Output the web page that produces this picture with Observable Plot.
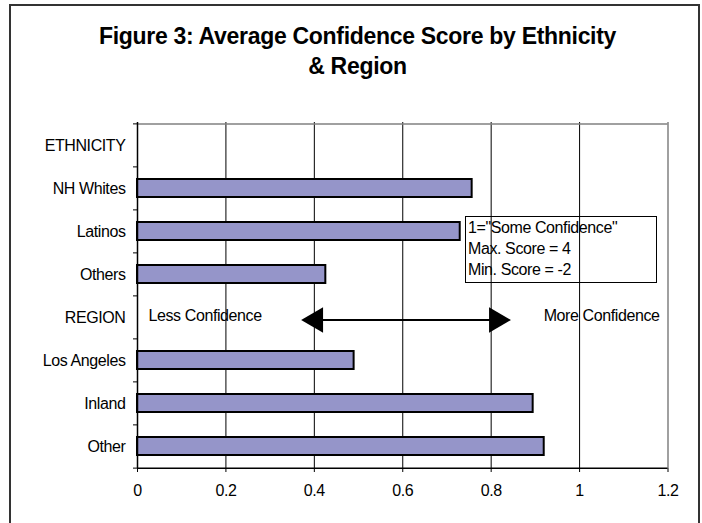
<!DOCTYPE html>
<html><head><meta charset="utf-8">
<script src="https://cdn.jsdelivr.net/npm/d3@7"></script>
<script src="https://cdn.jsdelivr.net/npm/@observablehq/plot@0.6"></script>
<style>
html,body{margin:0;padding:0;background:#fff;}
body{width:702px;height:523px;position:relative;overflow:hidden;font-family:"Liberation Sans",Arial,sans-serif;}
#frame{position:absolute;left:9px;top:4px;width:691px;height:600px;border:2px solid #333;box-sizing:border-box;}
#title{position:absolute;left:0;width:715px;top:21px;text-align:center;font-weight:bold;font-size:23px;line-height:30px;letter-spacing:-0.3px;color:#000;}
#chart{position:absolute;left:0;top:0;}
#note{position:absolute;left:465px;top:216px;width:192px;height:67px;border:1.5px solid #000;box-sizing:border-box;font-size:16px;line-height:21px;letter-spacing:-0.4px;padding-left:2px;color:#000;}
</style>
</head><body>
<div id="frame"></div>
<div id="chart"></div>
<div id="title"></div>
<div id="note"></div>
<script>
const titleLines = ["Figure 3: Average Confidence Score by Ethnicity", "& Region"];
const categories = ["ETHNICITY", "NH Whites", "Latinos", "Others", "REGION", "Los Angeles", "Inland", "Other"];
const scores = [null, 0.757, 0.73, 0.426, null, 0.49, 0.895, 0.92];
const xTicks = [0, 0.2, 0.4, 0.6, 0.8, 1, 1.2];
const gridTicks = [0.2, 0.4, 0.6, 0.8, 1];
const arrowFrom = 0.37, arrowTo = 0.845;
const lessLabel = "Less Confidence", moreLabel = "More Confidence";
const noteLines = ["1=\"Some Confidence\"", "Max. Score = 4", "Min. Score = -2"];

document.getElementById("title").innerHTML = titleLines.map(t => `<div>${t.replace(/&/g,"&amp;")}</div>`).join("");
document.getElementById("note").innerHTML = noteLines.map(t => `<div>${t.replace(/"/g,"&quot;")}</div>`).join("");

const bars = categories.map((c, i) => ({category: c, score: scores[i]})).filter(d => d.score != null);
const W = 702, H = 523, mT = 122, mB = 55, mL = 137, mR = 34.5;
const step = (H - mT - mB) / categories.length;

const chart = Plot.plot({
  width: W, height: H,
  marginLeft: mL, marginRight: mR, marginTop: mT, marginBottom: mB,
  style: {background: "transparent", fontFamily: "'Liberation Sans', Arial, sans-serif", fontSize: "16px", letterSpacing: "-0.4px", color: "#000"},
  x: {domain: [0, 1.2], ticks: xTicks, tickFormat: d => String(d), tickSize: 4, tickPadding: 12, label: null},
  y: {domain: categories, paddingInner: 0.584, paddingOuter: 0.292, tickSize: 0, tickPadding: 12, label: null},
  marks: [
    Plot.ruleX(gridTicks, {stroke: "#000", strokeWidth: 1}),
    Plot.ruleX([1.2], {stroke: "#808080", strokeWidth: 1.5}),
    Plot.ruleY([categories[0]], {dy: -step / 2, stroke: "#808080", strokeWidth: 1.5}),
    Plot.barX(bars, {x: "score", y: "category", fill: "#9595c9", stroke: "#000", strokeWidth: 2}),
    Plot.ruleX([0], {stroke: "#000", strokeWidth: 1.5}),
    Plot.ruleY([categories[categories.length - 1]], {dy: step / 2, stroke: "#000", strokeWidth: 1.5}),
    Plot.ruleY(categories, {x1: () => 0, x2: () => 0, insetLeft: -4, dy: -step / 2, stroke: "#000"}),
    Plot.ruleY([categories[categories.length - 1]], {x1: () => 0, x2: () => 0, insetLeft: -4, dy: step / 2, stroke: "#000"}),
    Plot.ruleY(["REGION"], {x1: () => arrowFrom, x2: () => arrowTo, insetLeft: 15, insetRight: 15, dy: 2.5, stroke: "#000", strokeWidth: 2}),
    Plot.dot([arrowFrom], {x: d => d, y: () => "REGION", dy: 2.5, dx: 14.7, symbol: "triangle", r: 9.4, rotate: -90, fill: "#000", stroke: "none"}),
    Plot.dot([arrowTo], {x: d => d, y: () => "REGION", dy: 2.5, dx: -14.7, symbol: "triangle", r: 9.4, rotate: 90, fill: "#000", stroke: "none"}),
    Plot.text([lessLabel], {x: () => 0, y: () => "REGION", text: d => d, dx: 11, dy: -2, textAnchor: "start", fontSize: 16, fill: "#000"}),
    Plot.text([moreLabel], {x: () => 1.2, y: () => "REGION", text: d => d, dx: -8.5, dy: -2, textAnchor: "end", fontSize: 16, fill: "#000"})
  ]
});
document.getElementById("chart").appendChild(chart);
</script>
</body></html>
